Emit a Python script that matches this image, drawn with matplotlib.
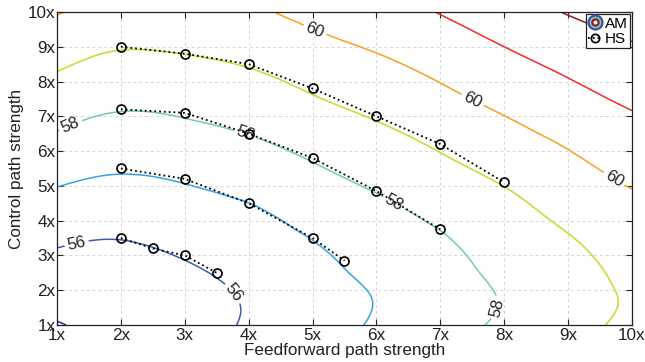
import numpy as np
import matplotlib
matplotlib.use('Agg')
import matplotlib.pyplot as plt
import matplotlib.tri as mtri
from matplotlib.lines import Line2D
from matplotlib.legend_handler import HandlerTuple

plt.rcParams['font.family'] = ['Liberation Sans', 'DejaVu Sans']

# AM surface sampled on the strength grid (rows follow ctrl_strength)
ff_strength = [1, 2, 3, 4, 5, 6, 7, 8, 9, 10]
ctrl_strength = [1, 1.5, 2, 3, 4, 5, 6, 7, 8, 9, 10]
am_score = [
    [54.95, 55.30, 55.66, 56.09, 56.59, 57.10, 57.63, 58.16, 58.69, 59.22],
    [55.19, 55.38, 55.65, 56.06, 56.55, 57.03, 57.55, 58.06, 58.59, 59.12],
    [55.42, 55.50, 55.70, 56.13, 56.60, 57.07, 57.58, 58.09, 58.61, 59.14],
    [55.89, 55.80, 56.06, 56.42, 56.84, 57.36, 57.78, 58.33, 58.80, 59.38],
    [56.44, 56.30, 56.51, 56.76, 57.25, 57.67, 58.12, 58.62, 59.14, 59.65],
    [57.02, 56.82, 56.97, 57.26, 57.69, 58.10, 58.57, 59.01, 59.56, 60.04],
    [57.65, 57.36, 57.49, 57.77, 58.15, 58.58, 59.02, 59.50, 59.98, 60.48],
    [58.26, 57.92, 58.03, 58.28, 58.67, 59.07, 59.52, 59.99, 60.46, 60.92],
    [58.84, 58.49, 58.56, 58.79, 59.19, 59.58, 60.02, 60.50, 60.95, 61.42],
    [59.45, 59.06, 59.13, 59.32, 59.73, 60.09, 60.53, 61.00, 61.46, 61.92],
    [60.06, 59.68, 59.73, 59.86, 60.26, 60.60, 61.04, 61.52, 62.06, 62.50],
]
plain_levels = [55, 57, 59, 61, 62]
labelled_levels = [56, 58, 60]

# HS iso-lines
hs1_ff = [2, 3, 4, 5, 6, 7, 8]
hs1_ctrl = [9.0, 8.8, 8.5, 7.8, 7.0, 6.2, 5.1]
hs2_ff = [2, 3, 4, 5, 6, 7]
hs2_ctrl = [7.2, 7.1, 6.5, 5.8, 4.85, 3.75]
hs3_ff = [2, 3, 4, 5, 5.5]
hs3_ctrl = [5.5, 5.2, 4.5, 3.5, 2.85]
hs4_ff = [2, 2.5, 3, 3.5]
hs4_ctrl = [3.5, 3.2, 3.0, 2.5]

tick_labels = ['1x', '2x', '3x', '4x', '5x', '6x', '7x', '8x', '9x', '10x']

plain_colors = ['#2b2d8c', '#3aa3df', '#c9d92b', '#ee2b2b', '#8e1c1c']
labelled_colors = ['#3d5bb5', '#74cbb0', '#f7a11f']

fig = plt.figure(figsize=(6.45, 3.62), dpi=100)
ax = fig.add_axes([0.0884, 0.1022, 0.8914, 0.8647])

# smooth the coarse grid with a cubic interpolant before contouring
gx, gy = np.meshgrid(ff_strength, ctrl_strength)
z = np.array(am_score)
tri = mtri.Triangulation(gx.ravel(), gy.ravel())
interp = mtri.CubicTriInterpolator(tri, z.ravel(), kind='min_E')
refiner = mtri.UniformTriRefiner(tri)
tri_fine, z_fine = refiner.refine_field(z.ravel(), triinterpolator=interp, subdiv=4)

ax.tricontour(tri_fine, z_fine, levels=plain_levels, colors=plain_colors,
              linewidths=1.1, zorder=2)
cs = ax.tricontour(tri_fine, z_fine, levels=labelled_levels,
                   colors=labelled_colors, linewidths=1.1, zorder=2)

label_spots = [(1.2, 6.8), (3.95, 6.5), (6.27, 4.5), (7.88, 1.5),
               (1.3, 3.4), (3.75, 1.9),
               (5.04, 9.5), (7.5, 7.45), (9.72, 5.2)]
ax.clabel(cs, manual=label_spots, inline=True, inline_spacing=3,
          fmt='%d', fontsize=12, colors='#222222')

for fx, fy in [(hs1_ff, hs1_ctrl), (hs2_ff, hs2_ctrl),
               (hs3_ff, hs3_ctrl), (hs4_ff, hs4_ctrl)]:
    ax.plot(fx, fy, color='k', ls=':', lw=1.3, marker='o', ms=6.5,
            mfc='none', mec='k', mew=1.2, zorder=4)

ax.set_xlim(1, 10)
ax.set_ylim(1, 10)
ax.set_xticks(range(1, 11))
ax.set_yticks(range(1, 11))
ax.set_xticklabels(tick_labels)
ax.set_yticklabels(tick_labels)
ax.tick_params(direction='in', top=True, right=True, length=4, width=0.8,
               labelsize=12.3, colors='#222222')
ax.tick_params(axis='y', pad=1)
ax.tick_params(axis='x', pad=2)
ax.grid(True, ls=(0, (3, 3)), color='#d4d4d4', lw=0.7, zorder=0)
ax.set_axisbelow(True)
for sp in ax.spines.values():
    sp.set_linewidth(0.9)
    sp.set_color('#222222')

ax.set_xlabel('Feedforward path strength', fontsize=12.3, labelpad=0, color='#222222')
ax.set_ylabel('Control path strength', fontsize=12.3, labelpad=3, color='#222222')

am_handle = (Line2D([], [], ls='none', marker='o', ms=10, mfc='#7fd0b8',
                    mec='#3d4fa8', mew=1.6),
             Line2D([], [], ls='none', marker='o', ms=4.5, mfc='white',
                    mec='#9b1c1c', mew=1.6))
hs_handle = Line2D([], [], color='k', ls=':', lw=1.3, marker='o', ms=6,
                   mfc='none', mec='k', mew=1.2)
leg = ax.legend([am_handle, hs_handle], ['AM', 'HS'],
                handler_map={tuple: HandlerTuple(ndivide=1)},
                loc='upper right', fontsize=11, fancybox=False,
                edgecolor='#222222', framealpha=1, borderpad=0.15,
                handlelength=0.9, handletextpad=0.15, borderaxespad=0.15,
                labelspacing=0.1)
leg.get_frame().set_linewidth(0.9)
leg.set_zorder(5)

fig.savefig('out.png', dpi=100, facecolor='white')
